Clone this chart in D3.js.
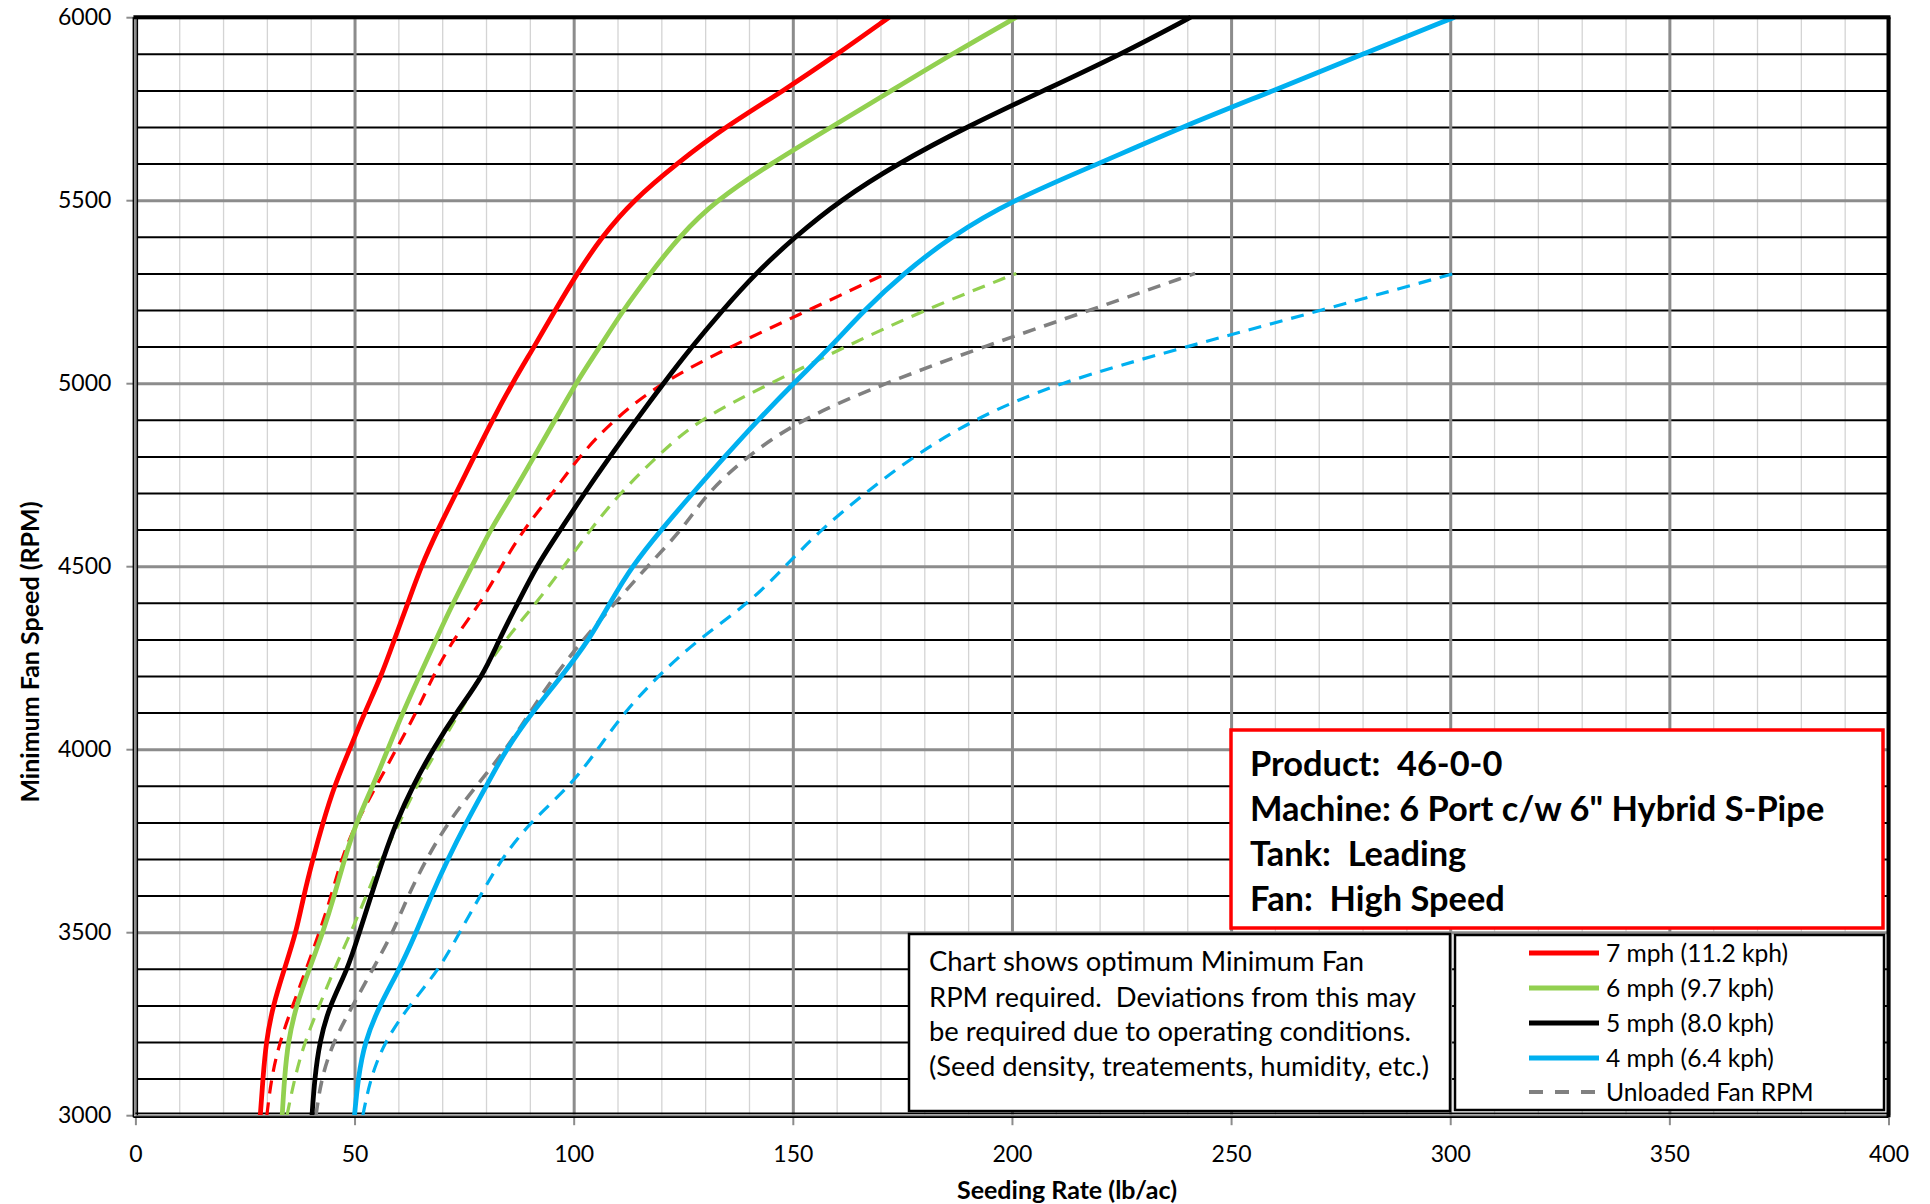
<!DOCTYPE html>
<html><head><meta charset="utf-8">
<script src="https://cdn.jsdelivr.net/npm/d3@7"></script>
<style>
html,body{margin:0;padding:0;background:#fff;}
svg{display:block;}
text{font-family:Lato,"Open Sans",sans-serif;fill:#000;white-space:pre;}
</style></head><body>
<svg id="chart" width="1930" height="1204"></svg>
<script>
// ---------------- DATA ----------------
const rpmSolid = [3000,3100,3200,3300,3400,3500,3600,3700,3800,3900,4000,4100,4200,4300,4400,4500,4600,4700,4800,4900,5000,5100,5200,5300,5400,5500,5600,5700,5800,5900,6000];
const rpmUnloaded = [3000,3100,3200,3300,3400,3500,3600,3700,3800,3900,4000,4100,4200,4300,4400,4500,4600,4700,4800,4900,5000,5100,5200,5300];

// seeding rate (lb/ac) at each RPM level
const mph7 = [28.5,29.1,29.8,31.4,34.0,36.7,38.4,40.5,42.8,45.4,48.9,52.3,56.1,59.1,62.2,65.2,69.0,73.2,77.3,81.5,86.0,91.0,95.8,100.8,106.4,113.6,123.5,134.5,148.0,160.3,172.0];
const mph6 = [33.5,34.0,34.8,36.7,39.7,42.8,45.4,47.7,50.4,54.2,57.6,61.0,64.8,68.6,72.5,76.8,81.0,86.2,91.0,95.8,100.5,106.0,111.3,117.5,124.0,132.5,145.0,158.8,172.6,186.4,201.0];
const mph5 = [40.3,40.9,42.0,44.3,48.5,51.1,53.8,56.5,59.5,63.3,67.9,73.2,79.3,83.0,87.3,91.5,97.0,102.5,108.3,114.3,120.5,127.0,134.0,141.5,150.5,160.8,173.9,189.6,207.3,225.1,240.8];
const mph4 = [50.0,50.8,52.3,55.7,60.3,64.1,67.5,71.3,75.5,80.1,84.6,90.5,97.3,103.6,108.3,113.3,120.0,127.2,134.5,142.1,150.2,158.7,166.3,175.3,186.0,200.1,219.8,238.8,259.8,280.2,301.0];

const unloaded7 = [30.0,31.0,32.9,35.9,39.0,42.0,44.7,47.0,50.4,55.0,59.5,64.1,67.9,72.5,78.8,83.5,88.5,95.3,101.2,109.1,119.7,135.7,153.7,171.4];
const unloaded6 = [34.6,36.3,38.6,42.0,45.4,49.2,52.7,56.1,60.3,64.1,69.0,74.0,78.5,84.5,91.5,97.8,103.8,110.6,119.0,128.3,145.0,162.0,180.0,201.0];
const unloaded5 = [41.2,42.4,45.1,49.6,54.2,58.8,62.2,66.4,71.3,77.8,84.6,90.0,95.6,102.2,109.5,116.8,124.8,130.4,139.5,151.5,171.0,193.5,218.0,241.8];
const unloaded4 = [51.9,53.6,56.8,62.5,69.4,74.0,78.7,83.5,90.0,99.3,105.5,111.5,119.2,128.4,140.1,148.3,156.4,166.5,177.5,191.0,210.0,239.9,270.8,301.0];

const xTickValues = [0,50,100,150,200,250,300,350,400];
const xMinorValues = [0,10,20,30,40,50,60,70,80,90,100,110,120,130,140,150,160,170,180,190,200,210,220,230,240,250,260,270,280,290,300,310,320,330,340,350,360,370,380,390,400];
const yTickValues = [3000,3500,4000,4500,5000,5500,6000];
const yMinorValues = [3100,3200,3300,3400,3600,3700,3800,3900,4100,4200,4300,4400,4600,4700,4800,4900,5100,5200,5300,5400,5600,5700,5800,5900];

const legendLabels = ["7 mph (11.2 kph)","6 mph (9.7 kph)","5 mph (8.0 kph)","4 mph (6.4 kph)","Unloaded Fan RPM"];
const legendColors = ["#FF0000","#92D050","#000000","#00B0F0","#808080"];
const infoLines = ["Product:  46-0-0","Machine: 6 Port c/w 6\" Hybrid S-Pipe","Tank:  Leading","Fan:  High Speed"];
const noteLines = ["Chart shows optimum Minimum Fan","RPM required.  Deviations from this may","be required due to operating conditions.","(Seed density, treatements, humidity, etc.)"];
const xTitle = "Seeding Rate (lb/ac)";
const yTitle = "Minimum Fan Speed (RPM)";

// ---------------- LAYOUT ----------------
const L = 135.4, R = 1888.5, T = 17.2, B = 1115.2;
const svg = d3.select("#chart");
const x = d3.scaleLinear().domain([0,400]).range([L,R]);
const y = d3.scaleLinear().domain([3000,6000]).range([B,T]);

// minor vertical grid (every 10)
svg.append("g").attr("transform",`translate(0,${B})`)
  .call(d3.axisBottom(x).tickValues(xMinorValues).tickSize(-(B-T)).tickFormat(""))
  .call(g=>g.select(".domain").remove())
  .call(g=>g.selectAll("line").attr("stroke","#d4d4d4").attr("stroke-width",1.3));
// minor horizontal grid (every 100) black
svg.append("g").attr("transform",`translate(${L},0)`)
  .call(d3.axisLeft(y).tickValues(yMinorValues).tickSize(-(R-L)).tickFormat(""))
  .call(g=>g.select(".domain").remove())
  .call(g=>g.selectAll("line").attr("stroke","#000").attr("stroke-width",2));
// major vertical grid
svg.append("g").attr("transform",`translate(0,${B})`)
  .call(d3.axisBottom(x).tickValues(xTickValues).tickSize(-(B-T)).tickFormat(""))
  .call(g=>g.select(".domain").remove())
  .call(g=>g.selectAll("line").attr("stroke","#8c8c8c").attr("stroke-width",3));
// major horizontal grid
svg.append("g").attr("transform",`translate(${L},0)`)
  .call(d3.axisLeft(y).tickValues(yTickValues).tickSize(-(R-L)).tickFormat(""))
  .call(g=>g.select(".domain").remove())
  .call(g=>g.selectAll("line").attr("stroke","#8c8c8c").attr("stroke-width",3));

// axes with ticks + labels
const xAxis = svg.append("g").attr("transform",`translate(0,${B+2})`)
  .call(d3.axisBottom(x).tickValues(xTickValues).tickSize(8).tickPadding(20).tickFormat(d3.format("d")))
  .call(g=>g.select(".domain").remove());
xAxis.selectAll("line").attr("stroke","#8c8c8c").attr("stroke-width",2);
xAxis.selectAll("text").attr("font-size",23).attr("font-family","Lato").attr("fill","#000").attr("dy","0.71em");

const yAxis = svg.append("g").attr("transform",`translate(${L-2},0)`)
  .call(d3.axisLeft(y).tickValues(yTickValues).tickSize(7).tickPadding(15).tickFormat(d3.format("d")))
  .call(g=>g.select(".domain").remove());
yAxis.selectAll("line").attr("stroke","#8c8c8c").attr("stroke-width",2);
yAxis.selectAll("text").attr("font-size",23).attr("font-family","Lato").attr("fill","#000");

// plot frame
svg.append("line").attr("x1",L-2).attr("x2",L-2).attr("y1",T).attr("y2",B+2).attr("stroke","#000").attr("stroke-width",1.6);
svg.append("line").attr("x1",L+2).attr("x2",L+2).attr("y1",T).attr("y2",B).attr("stroke","#000").attr("stroke-width",1.4);
svg.append("line").attr("x1",L-2).attr("x2",R).attr("y1",B+2).attr("y2",B+2).attr("stroke","#000").attr("stroke-width",1.8);
svg.append("line").attr("x1",L).attr("x2",R).attr("y1",B-2).attr("y2",B-2).attr("stroke","#000").attr("stroke-width",1.4);
svg.append("line").attr("x1",R).attr("x2",R).attr("y1",T).attr("y2",B+2).attr("stroke","#000").attr("stroke-width",4);

// ---------------- SERIES ----------------
const line = d3.line().x(d=>x(d.v)).y(d=>y(d.r)).curve(d3.curveBasis);
const dashed = [
  {vals:unloaded7, color:"#FF0000", w:3.2},
  {vals:unloaded6, color:"#92D050", w:3.2},
  {vals:unloaded5, color:"#808080", w:3.6},
  {vals:unloaded4, color:"#00B0F0", w:3.2}
];
const solid = [
  {vals:mph7, color:"#FF0000"},
  {vals:mph6, color:"#92D050"},
  {vals:mph5, color:"#000000"},
  {vals:mph4, color:"#00B0F0"}
];
svg.append("clipPath").attr("id","plotclip").append("rect")
  .attr("x",L).attr("y",T-3).attr("width",R-L).attr("height",B-T+3);
const gLines = svg.append("g").attr("clip-path","url(#plotclip)");
dashed.forEach(s=>{
  gLines.append("path").datum(rpmUnloaded.map((r,i)=>({r, v:s.vals[i]})))
    .attr("d",line).attr("fill","none").attr("stroke",s.color)
    .attr("stroke-width",s.w).attr("stroke-dasharray","13,9");
});
solid.forEach(s=>{
  gLines.append("path").datum(rpmSolid.map((r,i)=>({r, v:s.vals[i]})))
    .attr("d",line).attr("fill","none").attr("stroke",s.color)
    .attr("stroke-width",4.8).attr("stroke-linejoin","round");
});
// top border over line ends
svg.append("line").attr("x1",L-2).attr("x2",R+2).attr("y1",T).attr("y2",T).attr("stroke","#000").attr("stroke-width",4);

// ---------------- AXIS TITLES ----------------
svg.append("text").attr("x",1067).attr("y",1199).attr("text-anchor","middle")
  .attr("font-size",25).attr("font-weight","bold").text(xTitle);
svg.append("text").attr("transform","translate(39,652) rotate(-90)").attr("text-anchor","middle")
  .attr("font-size",25).attr("font-weight","bold").text(yTitle);

// ---------------- INFO BOX ----------------
svg.append("rect").attr("x",1231).attr("y",730).attr("width",652).attr("height",198)
  .attr("fill","#fff").attr("stroke","#FF0000").attr("stroke-width",3.5);
const infoBase = [776,821,866,911];
svg.append("g").selectAll("text").data(infoLines).join("text")
  .attr("x",1250).attr("y",(d,i)=>infoBase[i])
  .attr("font-size",34.4).attr("font-weight","bold").text(d=>d);

// ---------------- NOTE BOX ----------------
svg.append("rect").attr("x",909).attr("y",934).attr("width",541).attr("height",177)
  .attr("fill","#fff").attr("stroke","#000").attr("stroke-width",2.5);
const noteBase = [971,1006.5,1041,1075.5];
svg.append("g").selectAll("text").data(noteLines).join("text")
  .attr("x",929).attr("y",(d,i)=>noteBase[i])
  .attr("font-size",27.4).text(d=>d);

// ---------------- LEGEND ----------------
svg.append("rect").attr("x",1455).attr("y",935).attr("width",429).attr("height",175)
  .attr("fill","#fff").attr("stroke","#000").attr("stroke-width",2.5);
const legY = [953,988,1023,1058,1092];
const lg = svg.append("g").selectAll("g").data(legendLabels).join("g")
  .attr("transform",(d,i)=>`translate(0,${legY[i]})`);
lg.append("line").attr("x1",1529).attr("x2",1599).attr("y1",0).attr("y2",0)
  .attr("stroke",(d,i)=>legendColors[i]).attr("stroke-width",(d,i)=>i===4?4:5)
  .attr("stroke-dasharray",(d,i)=>i===4?"14,12":null);
lg.append("text").attr("x",1606).attr("y",0).attr("dy","0.36em")
  .attr("font-size",24.6).text(d=>d);
</script>
</body></html>
